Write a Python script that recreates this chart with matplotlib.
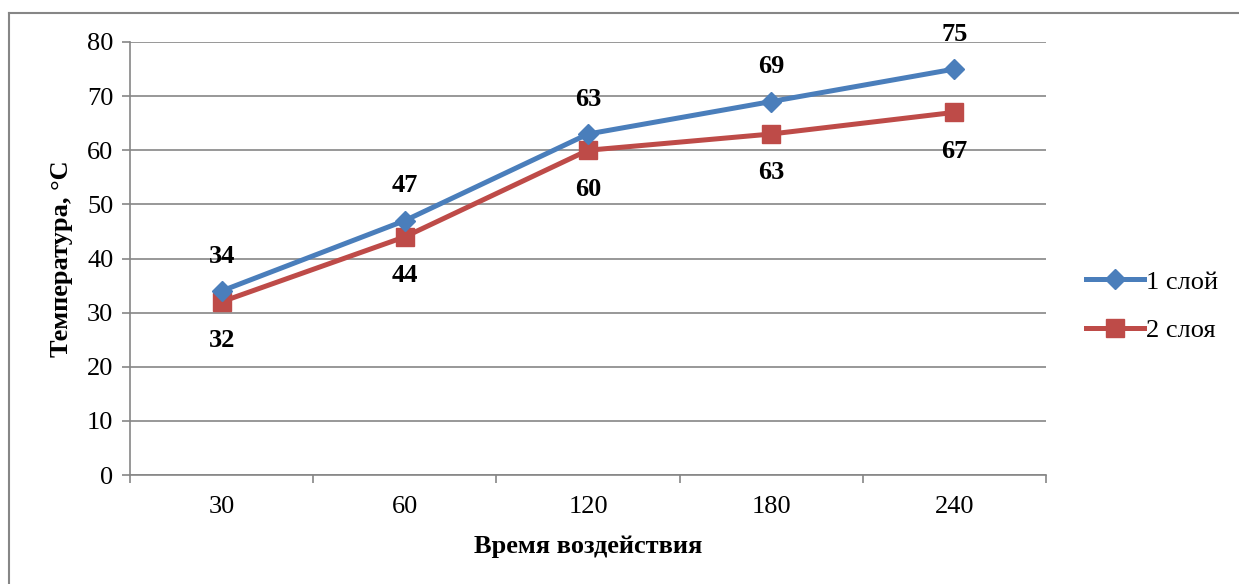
import matplotlib.pyplot as plt
from matplotlib.lines import Line2D
import numpy as np

plt.rcParams['font.family'] = ['Liberation Serif', 'DejaVu Serif']

times = ['30', '60', '120', '180', '240']
layer1 = [34, 47, 63, 69, 75]
layer2 = [32, 44, 60, 63, 67]

blue = '#4A7EBB'
red = '#BE4B48'
grid_c = '#868686'

fig = plt.figure(figsize=(12.39, 5.84), dpi=100)
ax = fig.add_axes([130 / 1239, 1 - 475 / 584, 916 / 1239, 433 / 584])

# outer chart frame (only top and left edges are visible)
fig.add_artist(Line2D([9 / 1239, 9 / 1239], [0, 1 - 13 / 584], color=grid_c, lw=1.5,
                      transform=fig.transFigure))
fig.add_artist(Line2D([9 / 1239, 1], [1 - 13 / 584, 1 - 13 / 584], color=grid_c, lw=1.5,
                      transform=fig.transFigure))

x = np.arange(len(times))
ax.plot(x, layer1, color=blue, lw=3.6, marker='D', ms=10, label='1 слой', zorder=4)
ax.plot(x, layer2, color=red, lw=3.6, marker='s', ms=13, label='2 слоя', zorder=3)

for xi, v in zip(x, layer1):
    ax.annotate(str(v), (xi, v), xytext=(0, 25), textcoords='offset points',
                ha='center', va='center', fontsize=19, fontweight='bold')
for xi, v in zip(x, layer2):
    ax.annotate(str(v), (xi, v), xytext=(0, -28), textcoords='offset points',
                ha='center', va='center', fontsize=19, fontweight='bold')

ax.set_ylim(0, 80)
ax.set_yticks(range(0, 81, 10))
ax.set_xlim(-0.5, len(times) - 0.5)
ax.set_xticks(np.arange(-0.5, len(times)), labels=[])
ax.set_xticks(x, labels=times, minor=True)
ax.tick_params(axis='x', which='minor', length=0, pad=15, labelsize=19)
ax.tick_params(axis='x', which='major', length=6, color=grid_c, width=1.2)
ax.tick_params(axis='y', length=6, color=grid_c, width=1.2, labelsize=19, pad=6)

ax.yaxis.grid(True, color=grid_c, lw=1.2)
ax.set_axisbelow(True)
for s in ['top', 'right']:
    ax.spines[s].set_visible(False)
for s in ['left', 'bottom']:
    ax.spines[s].set_color(grid_c)
    ax.spines[s].set_linewidth(1.2)

ax.set_ylabel('Температура, °C', fontsize=19, fontweight='bold', labelpad=10)
ax.set_xlabel('Время воздействия', fontsize=19, fontweight='bold', labelpad=12)

ax.legend(loc='center left', bbox_to_anchor=(1.018, 0.39), frameon=False, fontsize=19,
          handlelength=2.2, handletextpad=0.05, labelspacing=0.95)

fig.savefig('out.png', dpi=100)
